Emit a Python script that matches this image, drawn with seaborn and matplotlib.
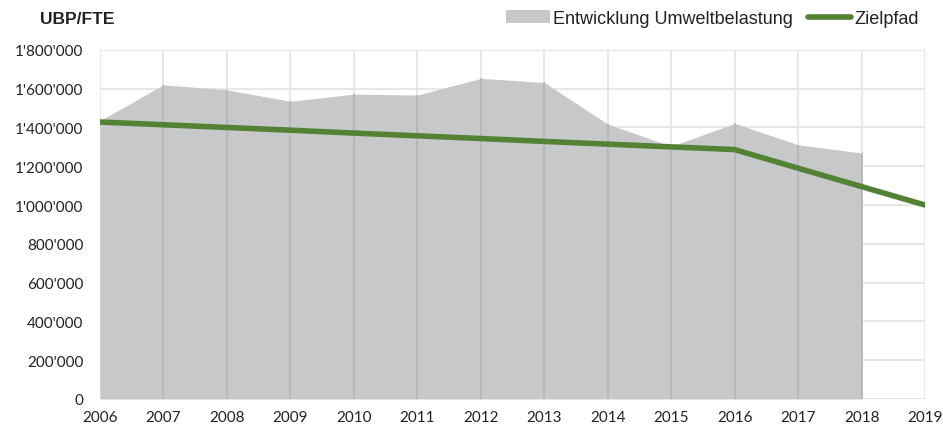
import numpy as np
import pandas as pd
import seaborn as sns
import matplotlib.pyplot as plt
from matplotlib.patches import Patch
from matplotlib.lines import Line2D
from matplotlib.ticker import FuncFormatter

# data
years = list(range(2006, 2020))
umwelt_years = list(range(2006, 2019))
umwelt = [1435000, 1620000, 1594000, 1535000, 1572000, 1567000, 1653000,
          1632000, 1418000, 1303000, 1421000, 1311000, 1268000]
zielpfad = [1428000, 1414000, 1400000, 1386000, 1371000, 1357000, 1343000,
            1328000, 1314000, 1300000, 1286000, 1190000, 1095000, 1000000]
y_ticks = list(range(0, 1800001, 200000))

area_color = '#C7C8CA'
green = '#548235'
grid_color = '#E3E3E3'

sns.set_style('white')
plt.rcParams['font.family'] = ['Liberation Sans', 'DejaVu Sans']

fig = plt.figure(figsize=(9.43, 4.35), dpi=100)
ax = fig.add_axes([0.106, 0.0805, 0.875, 0.8025])

# grid
for y in y_ticks:
    ax.axhline(y, color=grid_color, lw=1.2, zorder=0)
for x in years:
    ax.axvline(x, color=grid_color, lw=1.2, zorder=0)

# area
ax.fill_between(umwelt_years, 0, umwelt, color=area_color, lw=0, zorder=1)
ax.vlines(umwelt_years[1:], 0, umwelt[1:], color='#B3B4B6', lw=1.2, zorder=1.5)

# target path
df = pd.DataFrame({'Jahr': years, 'Zielpfad': zielpfad})
sns.lineplot(data=df, x='Jahr', y='Zielpfad', color=green, lw=4,
             ax=ax, zorder=3, solid_capstyle='round')

ax.set_xlim(2006, 2019)
ax.set_ylim(0, 1800000)
ax.set_xticks(years)
ax.set_yticks(y_ticks)
ax.yaxis.set_major_formatter(FuncFormatter(lambda v, p: f"{v:,.0f}".replace(',', "'")))
ax.set_xlabel('')
ax.set_ylabel('')
for s in ax.spines.values():
    s.set_visible(False)
ax.tick_params(axis='both', length=0, labelsize=11, colors='#222222')
ax.tick_params(axis='x', pad=8)
ax.tick_params(axis='y', pad=12)
for lab in ax.get_xticklabels() + ax.get_yticklabels():
    lab.set_family(['Lato', 'DejaVu Sans'])

fig.text(0.042, 0.955, 'UBP/FTE', fontsize=12.5, fontweight='bold',
         color='#222222', va='center', ha='left')

handles = [Patch(facecolor=area_color, edgecolor='none', label='Entwicklung Umweltbelastung'),
           Line2D([0], [0], color=green, lw=4, label='Zielpfad')]
fig.legend(handles=handles, loc='center right', bbox_to_anchor=(0.992, 0.955),
           ncol=2, frameon=False, fontsize=13, handlelength=2.4,
           handletextpad=0.2, columnspacing=0.8, labelcolor='#222222')

plt.savefig('out.png', dpi=100)
plt.close()
